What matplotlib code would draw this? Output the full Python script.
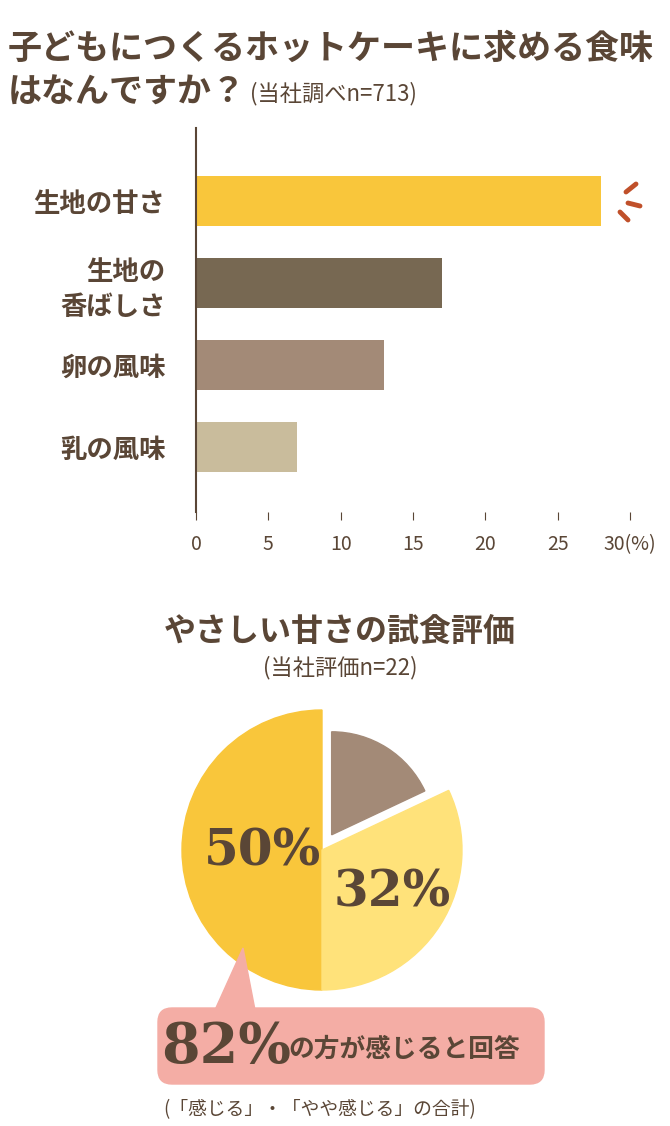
import matplotlib
matplotlib.use("Agg")
import matplotlib.pyplot as plt
from matplotlib.patches import Wedge, FancyBboxPatch, Polygon
import numpy as np

FAM = ['Noto Sans CJK JP', 'DejaVu Sans']
plt.rcParams['font.family'] = FAM
TXT = '#5a4636'

bar_labels = ['生地の甘さ', '生地の\n香ばしさ', '卵の風味', '乳の風味']
bar_values = [28, 17, 13, 7]
bar_colors = ['#F9C63B', '#776852', '#A38A77', '#C9BC9C']
x_ticks = [0, 5, 10, 15, 20, 25, 30]
x_ticklabels = ['0', '5', '10', '15', '20', '25', '30(%)']

pie_labels = ['感じる', 'やや感じる', 'その他']
pie_values = [50, 32, 18]
pie_colors = ['#F9C63B', '#FFE27A', '#A38A77']

W, H = 670, 1126
fig = plt.figure(figsize=(W/100, H/100), dpi=100)
fig.patch.set_facecolor('white')

# bar chart
ax = fig.add_axes([196/W, 1-512/H, (630-196)/W, (512-128)/H])
y = np.arange(len(bar_values))
ax.barh(y, bar_values, height=0.61, color=bar_colors)
ax.set_ylim(3 + 0.79, -0.89)
ax.set_xlim(0, 30)
ax.set_xticks(x_ticks)
ax.set_xticklabels(x_ticklabels, fontsize=14, color=TXT)
ax.set_yticks(y)
ax.set_yticklabels(bar_labels, fontsize=19, fontweight='bold', color=TXT, linespacing=1.4)
for s in ['top', 'right', 'bottom']:
    ax.spines[s].set_visible(False)
ax.spines['left'].set_color(TXT)
ax.spines['left'].set_linewidth(1.5)
ax.tick_params(axis='y', length=0, pad=22)
ax.tick_params(axis='x', length=6, color=TXT, pad=10, direction='out')

# overlay axes in pixel coordinates
ov = fig.add_axes([0, 0, 1, 1])
ov.set_xlim(0, W); ov.set_ylim(H, 0); ov.axis('off')
ov.patch.set_alpha(0)

ov.text(8, 48, '子どもにつくるホットケーキに求める食味', fontsize=24.5, fontweight='bold', color=TXT, va='center')
ov.text(8, 92, 'はなんですか？', fontsize=24.5, fontweight='bold', color=TXT, va='center')
ov.text(250, 94, '(当社調べn=713)', fontsize=16, color=TXT, va='center')

# spark marks
for (x0, y0, x1, y1) in [(626, 192, 636, 184), (628, 203, 640, 206), (620, 212, 628, 220)]:
    ov.plot([x0, x1], [y0, y1], color='#C0502A', lw=3.5, solid_capstyle='round')

ov.text(340, 632, 'やさしい甘さの試食評価', fontsize=23, fontweight='bold', color=TXT, ha='center', va='center')
ov.text(340, 668, '(当社評価n=22)', fontsize=16, color=TXT, ha='center', va='center')

# pie
cx, cy, r = 322, 850, 140
start = 90
ang = start
for i, (v, c) in enumerate(zip(pie_values, pie_colors)):
    theta = v / 100 * 360
    t1, t2 = ang, ang + theta
    if i == 2:
        mid = np.deg2rad((t1 + t2) / 2)
        ox, oy = cx + 18*np.cos(mid), cy - 18*np.sin(mid)
        w = Wedge((ox, oy), 103, -t2, -t1, color=c)
    else:
        w = Wedge((cx, cy), r, -t2, -t1, color=c)
    ov.add_patch(w)
    ang = t2

ov.text(262, 852, '50%', fontsize=36, fontweight='bold', family='DejaVu Serif', color=TXT, ha='center', va='center')
ov.text(392, 893, '32%', fontsize=36, fontweight='bold', family='DejaVu Serif', color=TXT, ha='center', va='center')

# callout
pink = '#F4ADA5'
ov.add_patch(Polygon([[215, 1010], [243, 948], [255, 1010]], color=pink))
ov.add_patch(FancyBboxPatch((158, 1008), 386, 76, boxstyle='round,pad=0,rounding_size=14', color=pink))
ov.text(226, 1047, '82%', fontsize=40, fontweight='bold', family='DejaVu Serif', color=TXT, ha='center', va='center')
ov.text(288, 1049, 'の方が感じると回答', fontsize=18.5, fontweight='bold', color=TXT, va='center')
ov.text(320, 1110, '(「感じる」・「やや感じる」の合計)', fontsize=13.5, color=TXT, ha='center', va='center')

fig.savefig('out.png', dpi=100)
